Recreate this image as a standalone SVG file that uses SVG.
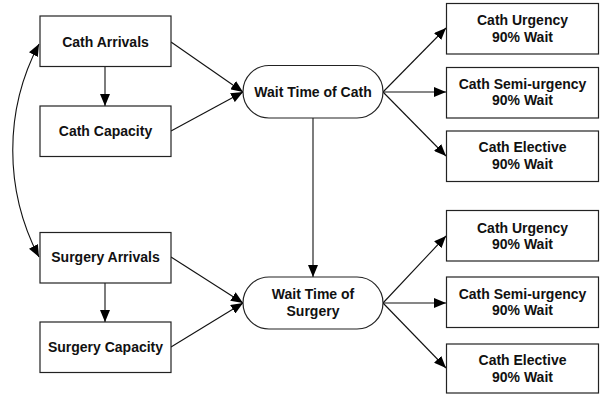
<svg xmlns="http://www.w3.org/2000/svg" width="600" height="396" viewBox="0 0 600 396">
<defs>
<marker id="arr" viewBox="0 0 12 10" refX="12" refY="5" markerWidth="12" markerHeight="10" markerUnits="userSpaceOnUse" orient="auto-start-reverse">
<path d="M0,0 L12,5 L0,10 Z" fill="#000"/>
</marker>
<style>
.box{fill:#fff;stroke:#222;stroke-width:1.2}
.t{font-family:"Liberation Sans",Arial,sans-serif;font-weight:bold;font-size:14px;fill:#111;text-anchor:middle}
.c{fill:none;stroke:#111;stroke-width:1.1}
</style>
</defs>
<rect width="600" height="396" fill="#fff"/>
<g id="connectors">
<path class="c" d="M105,66.5 L105,106" marker-end="url(#arr)"/>
<path class="c" d="M105,283 L105,322" marker-end="url(#arr)"/>
<path class="c" d="M171,42 L243,92" marker-end="url(#arr)"/>
<path class="c" d="M171,131 L243,92" marker-end="url(#arr)"/>
<path class="c" d="M171,257 L243,303" marker-end="url(#arr)"/>
<path class="c" d="M171,347 L243,303" marker-end="url(#arr)"/>
<path class="c" d="M313,118 L313,277" marker-end="url(#arr)"/>
<path class="c" d="M383,92 L446,28" marker-end="url(#arr)"/>
<path class="c" d="M383,92 L446,92" marker-end="url(#arr)"/>
<path class="c" d="M383,92 L446,156" marker-end="url(#arr)"/>
<path class="c" d="M383,303 L446,236" marker-end="url(#arr)"/>
<path class="c" d="M383,303 L446,303" marker-end="url(#arr)"/>
<path class="c" d="M383,303 L446,368" marker-end="url(#arr)"/>
<path class="c" d="M39,44 C4,110 4,190 39,257" marker-start="url(#arr)" marker-end="url(#arr)"/>
</g>
<g id="cath-arrivals"><rect class="box" x="40" y="16" width="131" height="50.5"/><text class="t" x="105.5" y="46.5">Cath Arrivals</text></g>
<g id="cath-capacity"><rect class="box" x="40" y="106" width="131" height="50.5"/><text class="t" x="105.5" y="136">Cath Capacity</text></g>
<g id="surgery-arrivals"><rect class="box" x="40" y="232.5" width="131" height="50.5"/><text class="t" x="105.5" y="262">Surgery Arrivals</text></g>
<g id="surgery-capacity"><rect class="box" x="40" y="322" width="131" height="50.5"/><text class="t" x="105.5" y="351.5">Surgery Capacity</text></g>
<g id="wait-cath"><rect class="box" x="243" y="65.5" width="140" height="52.5" rx="26" ry="26"/><text class="t" x="313" y="96.5">Wait Time of Cath</text></g>
<g id="wait-surgery"><rect class="box" x="243" y="277" width="140" height="52" rx="26" ry="26"/><text class="t" x="313" y="299">Wait Time of</text><text class="t" x="313" y="315.5">Surgery</text></g>
<g id="cath-urgency-1"><rect class="box" x="446.5" y="3.5" width="152" height="50.5"/><text class="t" x="522.5" y="25">Cath Urgency</text><text class="t" x="522.5" y="41.5">90% Wait</text></g>
<g id="cath-semi-1"><rect class="box" x="446.5" y="67.5" width="152" height="50.5"/><text class="t" x="522.5" y="88.5">Cath Semi-urgency</text><text class="t" x="522.5" y="105">90% Wait</text></g>
<g id="cath-elective-1"><rect class="box" x="446.5" y="131" width="152" height="50.5"/><text class="t" x="522.5" y="151.5">Cath Elective</text><text class="t" x="522.5" y="168.5">90% Wait</text></g>
<g id="cath-urgency-2"><rect class="box" x="446.5" y="210.5" width="152" height="50.5"/><text class="t" x="522.5" y="233">Cath Urgency</text><text class="t" x="522.5" y="249">90% Wait</text></g>
<g id="cath-semi-2"><rect class="box" x="446.5" y="277" width="152" height="50.5"/><text class="t" x="522.5" y="298.5">Cath Semi-urgency</text><text class="t" x="522.5" y="315">90% Wait</text></g>
<g id="cath-elective-2"><rect class="box" x="446.5" y="344" width="152" height="49"/><text class="t" x="522.5" y="365">Cath Elective</text><text class="t" x="522.5" y="381.5">90% Wait</text></g>
</svg>
